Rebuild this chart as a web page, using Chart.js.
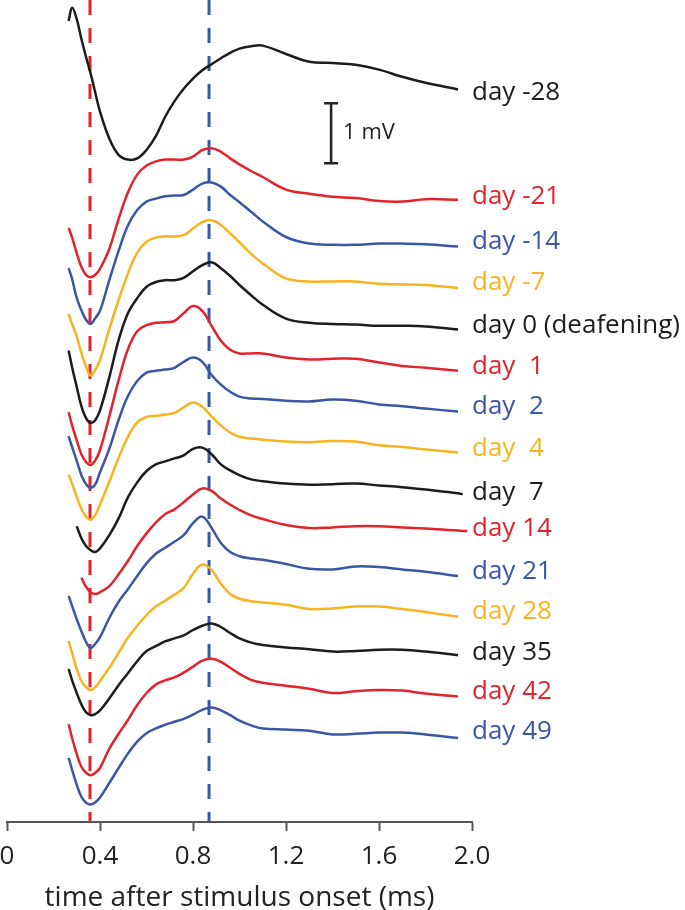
<!DOCTYPE html>
<html lang="en">
  <head>
    <meta charset="utf-8" />
    <title>Evoked waveforms across days</title>
    <script src="https://cdn.jsdelivr.net/npm/chart.js"></script>
    <style>
      body {
        margin: 0;
        background: #ffffff;
      }
    </style>
  </head>
  <body>
    <canvas id="traces" width="685" height="910"></canvas>
    <script>
      // sample times (ms after stimulus onset)
      const timeMs = [0.265, 0.28, 0.3, 0.32, 0.34, 0.36, 0.38, 0.4, 0.44, 0.48, 0.52, 0.56, 0.6, 0.64, 0.68, 0.72, 0.76, 0.8, 0.84, 0.88, 0.92, 0.96, 1.0, 1.05, 1.1, 1.2, 1.3, 1.4, 1.5, 1.6, 1.7, 1.8, 1.94, 1.96, 1.98];

      // waveforms in mV, relative to each trace's end level
      const dayM28 = [1.14, 1.36, 1.17, 0.84, 0.54, 0.26, -0.06, -0.37, -0.82, -1.09, -1.17, -1.15, -1.01, -0.78, -0.46, -0.2, 0.01, 0.18, 0.32, 0.42, 0.52, 0.61, 0.68, 0.72, 0.73, 0.59, 0.46, 0.44, 0.41, 0.33, 0.21, 0.11, 0, null, null];
      const dayM21 = [-0.47, -0.63, -0.89, -1.12, -1.25, -1.29, -1.25, -1.15, -0.82, -0.32, 0.12, 0.42, 0.57, 0.64, 0.67, 0.67, 0.67, 0.72, 0.83, 0.86, 0.8, 0.69, 0.59, 0.48, 0.38, 0.17, 0.1, 0.05, 0.03, -0.02, -0.03, 0.01, 0, null, null];
      const dayM14 = [-0.36, -0.54, -0.86, -1.06, -1.22, -1.29, -1.19, -1.07, -0.56, -0.07, 0.35, 0.61, 0.75, 0.8, 0.84, 0.85, 0.86, 0.95, 1.05, 1.07, 1.0, 0.86, 0.74, 0.58, 0.42, 0.16, 0.05, 0.03, 0.03, 0.05, 0.05, 0.04, 0, null, null];
      const dayM7 = [-0.43, -0.6, -0.81, -1.08, -1.31, -1.46, -1.36, -1.2, -0.68, -0.2, 0.24, 0.59, 0.77, 0.84, 0.86, 0.86, 0.88, 0.99, 1.1, 1.13, 1.05, 0.91, 0.76, 0.57, 0.41, 0.16, 0.11, 0.11, 0.11, 0.07, 0.06, 0.05, 0, null, null];
      const day0 = [-0.35, -0.63, -0.96, -1.28, -1.48, -1.56, -1.51, -1.35, -0.8, -0.18, 0.27, 0.52, 0.71, 0.79, 0.82, 0.82, 0.86, 0.97, 1.07, 1.12, 1.02, 0.89, 0.74, 0.57, 0.41, 0.18, 0.11, 0.09, 0.08, 0.06, 0.06, 0.05, 0, null, null];
      const day1 = [-0.69, -0.91, -1.16, -1.39, -1.52, -1.57, -1.49, -1.32, -0.76, -0.16, 0.36, 0.66, 0.76, 0.8, 0.81, 0.83, 0.96, 1.08, 1.0, 0.75, 0.5, 0.35, 0.29, 0.29, 0.29, 0.22, 0.19, 0.2, 0.2, 0.14, 0.08, 0.05, 0, null, null];
      const day2 = [-0.41, -0.59, -0.82, -1.06, -1.21, -1.27, -1.21, -1.01, -0.62, -0.14, 0.26, 0.51, 0.65, 0.68, 0.7, 0.73, 0.83, 0.9, 0.83, 0.61, 0.45, 0.33, 0.25, 0.22, 0.21, 0.18, 0.17, 0.2, 0.18, 0.12, 0.09, 0.05, 0, null, null];
      const day4 = [-0.37, -0.52, -0.74, -0.94, -1.07, -1.12, -1.04, -0.87, -0.49, -0.09, 0.26, 0.5, 0.59, 0.61, 0.63, 0.66, 0.75, 0.83, 0.76, 0.6, 0.45, 0.33, 0.26, 0.23, 0.21, 0.18, 0.17, 0.19, 0.18, 0.12, 0.09, 0.05, 0, null, null];
      const day7 = [null, null, -0.55, -0.75, -0.88, -0.95, -0.98, -0.92, -0.7, -0.42, -0.07, 0.18, 0.37, 0.48, 0.53, 0.58, 0.63, 0.74, 0.76, 0.65, 0.48, 0.38, 0.3, 0.23, 0.2, 0.16, 0.14, 0.15, 0.16, 0.13, 0.1, 0.06, 0, -0.02, null];
      const day14 = [null, null, null, -0.79, -0.94, -1.03, -1.06, -1.03, -0.93, -0.73, -0.51, -0.26, -0.05, 0.13, 0.27, 0.35, 0.47, 0.6, 0.7, 0.66, 0.53, 0.43, 0.34, 0.25, 0.19, 0.09, 0.04, 0.05, 0.07, 0.07, 0.05, 0.03, 0, -0.01, -0.01];
      const day21 = [-0.33, -0.5, -0.72, -0.92, -1.1, -1.2, -1.13, -1.02, -0.7, -0.43, -0.22, 0, 0.21, 0.37, 0.47, 0.57, 0.68, 0.88, 0.99, 0.8, 0.55, 0.4, 0.33, 0.29, 0.27, 0.2, 0.12, 0.11, 0.16, 0.15, 0.11, 0.07, 0, null, null];
      const day28 = [-0.4, -0.6, -0.87, -1.07, -1.17, -1.22, -1.17, -1.07, -0.85, -0.6, -0.35, -0.15, 0.03, 0.17, 0.27, 0.37, 0.48, 0.72, 0.87, 0.78, 0.55, 0.38, 0.3, 0.26, 0.24, 0.2, 0.13, 0.14, 0.17, 0.17, 0.13, 0.08, 0, null, null];
      const day35 = [-0.23, -0.42, -0.63, -0.82, -0.95, -1.0, -0.98, -0.92, -0.72, -0.5, -0.3, -0.1, 0.07, 0.15, 0.23, 0.28, 0.33, 0.42, 0.49, 0.53, 0.47, 0.37, 0.28, 0.21, 0.17, 0.13, 0.1, 0.06, 0.07, 0.09, 0.09, 0.06, 0, null, null];
      const day42 = [-0.46, -0.69, -0.96, -1.17, -1.27, -1.31, -1.27, -1.19, -0.87, -0.62, -0.39, -0.14, 0.06, 0.2, 0.27, 0.32, 0.4, 0.5, 0.6, 0.63, 0.58, 0.48, 0.38, 0.28, 0.23, 0.18, 0.13, 0.06, 0.09, 0.11, 0.1, 0.05, 0, null, null];
      const day49 = [-0.33, -0.53, -0.78, -0.98, -1.08, -1.11, -1.07, -0.99, -0.75, -0.5, -0.26, -0.06, 0.08, 0.16, 0.22, 0.27, 0.32, 0.39, 0.47, 0.51, 0.46, 0.38, 0.29, 0.21, 0.16, 0.14, 0.12, 0.06, 0.07, 0.09, 0.09, 0.06, 0, null, null];

      const dayLabels = ["day -28", "day -21", "day -14", "day -7", "day 0 (deafening)", "day  1", "day  2", "day  4", "day  7", "day 14", "day 21", "day 28", "day 35", "day 42", "day 49"];
      // vertical stacking of the traces (mV)
      const baselineMv = [12.21, 10.37, 9.59, 8.9, 8.21, 7.52, 6.84, 6.16, 5.48, 4.86, 4.1, 3.42, 2.78, 2.09, 1.4];
      const waveforms = [dayM28, dayM21, dayM14, dayM7, day0, day1, day2, day4, day7, day14, day21, day28, day35, day42, day49];

      // latency markers (ms)
      const firstLatency = 0.357;
      const secondLatency = 0.869;

      const BLACK = "#1c1c1c";
      const RED = "#e2232b";
      const BLUE = "#3b56a5";
      const YELLOW = "#f8b320";
      const traceColors = [BLACK, RED, BLUE, YELLOW, BLACK, RED, BLUE, YELLOW, BLACK, RED, BLUE, YELLOW, BLACK, RED, BLUE];
      // small vertical nudges of the day labels (px), top one sits below its trace end
      const labelNudge = [3, -3, -5, -5, -4, -4, -5, -4, -1, -2, -4, -5, -3, -5, -6];

      const Y_MAX = 13.7;
      const FONT = "'Open Sans', 'DejaVu Sans', sans-serif";

      const datasets = waveforms.map((wave, i) => ({
        data: timeMs.map((t, j) => ({
          x: t,
          y: wave[j] === null ? null : baselineMv[i] + wave[j],
        })),
        borderColor: traceColors[i],
        borderWidth: 2.5,
        pointRadius: 0,
        tension: 0.4,
        spanGaps: false,
      }));

      // dashed latency lines go last so they sit behind the traces
      [
        [firstLatency, RED],
        [secondLatency, BLUE],
      ].forEach(([t, c]) => {
        datasets.push({
          data: [
            { x: t, y: Y_MAX },
            { x: t, y: 0 },
          ],
          borderColor: c,
          borderWidth: 3,
          borderDash: [15, 13],
          pointRadius: 0,
          tension: 0,
        });
      });

      // day labels + 1 mV scale bar
      const annotations = {
        id: "annotations",
        afterDatasetsDraw(chart) {
          const ctx = chart.ctx;
          const xs = chart.scales.x;
          const ys = chart.scales.y;
          ctx.save();
          ctx.font = "26px " + FONT;
          ctx.textBaseline = "middle";
          ctx.textAlign = "left";
          dayLabels.forEach((label, i) => {
            ctx.fillStyle = traceColors[i];
            ctx.fillText(label, xs.getPixelForValue(2.0), ys.getPixelForValue(baselineMv[i]) + labelNudge[i]);
          });

          const bx = xs.getPixelForValue(1.394);
          const top = ys.getPixelForValue(11.98);
          const bot = ys.getPixelForValue(10.98);
          ctx.strokeStyle = "#222";
          ctx.lineWidth = 2.5;
          ctx.beginPath();
          ctx.moveTo(bx, top);
          ctx.lineTo(bx, bot);
          ctx.moveTo(bx - 7, top);
          ctx.lineTo(bx + 7, top);
          ctx.moveTo(bx - 7, bot);
          ctx.lineTo(bx + 7, bot);
          ctx.stroke();
          ctx.fillStyle = "#222";
          ctx.font = "22px " + FONT;
          ctx.fillText("1 mV", bx + 12, (top + bot) / 2);
          ctx.restore();
        },
      };

      new Chart(document.getElementById("traces"), {
        type: "line",
        data: { datasets: datasets },
        options: {
          responsive: false,
          animation: false,
          layout: { padding: { left: 7, right: 213, top: 0, bottom: 0 } },
          plugins: {
            legend: { display: false },
            tooltip: { enabled: false },
          },
          scales: {
            x: {
              type: "linear",
              min: 0,
              max: 2,
              afterFit: (scale) => {
                // let the "0" label hang past the left edge like the original
                scale.paddingLeft = 0;
              },
              ticks: {
                stepSize: 0.4,
                color: "#222",
                padding: 10,
                maxRotation: 0,
                font: { family: FONT, size: 26 },
                callback: (v) => (v === 0 ? "0" : v.toFixed(1)),
              },
              grid: {
                drawOnChartArea: false,
                drawTicks: true,
                tickLength: 9,
                tickWidth: 2,
                tickColor: "#555",
              },
              border: { display: true, color: "#555", width: 2 },
              title: {
                display: true,
                text: "time after stimulus onset (ms)",
                color: "#222",
                font: { family: FONT, size: 28, lineHeight: 0.85 },
                padding: { top: 4, bottom: 0 },
              },
            },
            y: {
              type: "linear",
              min: 0,
              max: Y_MAX,
              display: false,
            },
          },
        },
        plugins: [annotations],
      });
    </script>
  </body>
</html>
